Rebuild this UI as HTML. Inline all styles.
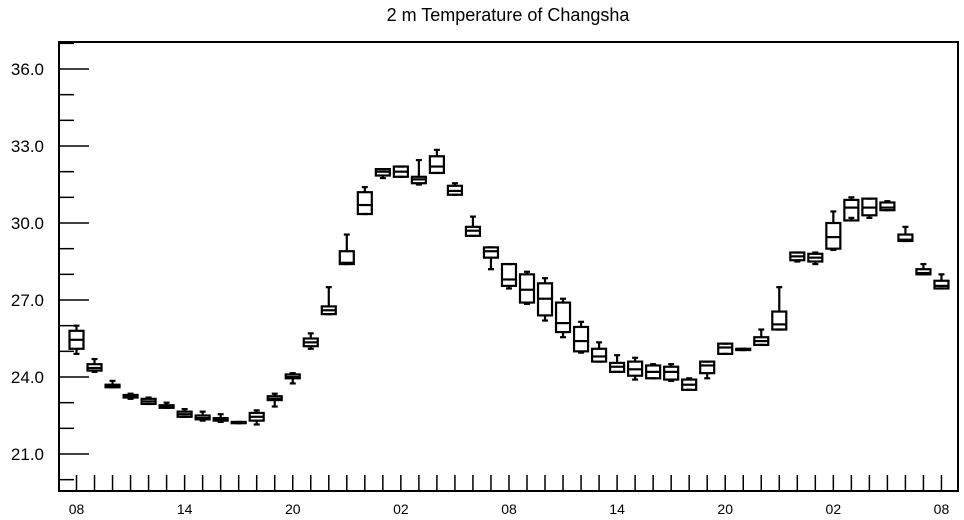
<!DOCTYPE html>
<html><head><meta charset="utf-8"><style>
html,body{margin:0;padding:0;background:#fff;}
svg{display:block;font-family:"Liberation Sans",Arial,sans-serif;}
</style></head><body>
<svg id="chart" width="964" height="520" viewBox="0 0 964 520" xmlns="http://www.w3.org/2000/svg">
<text x="508" y="21" font-size="18" text-anchor="middle">2 m Temperature of Changsha</text>
<g id="axes"></g>
<g id="boxes"></g>
<rect x="59" y="42" width="899" height="449" fill="none" stroke="#000" stroke-width="2"/>
</svg>
<script>
const hours = [0,1,2,3,4,5,6,7,8,9,10,11,12,13,14,15,16,17,18,19,20,21,22,23,24,25,26,27,28,29,30,31,32,33,34,35,36,37,38,39,40,41,42,43,44,45,46,47,48];
const mins = [24.9,24.2,23.6,23.15,22.95,22.8,22.45,22.3,22.25,22.2,22.15,22.85,23.75,25.1,26.45,28.4,30.35,31.75,31.8,31.5,31.95,31.1,29.5,28.2,27.45,26.85,26.2,25.55,24.95,24.6,24.2,23.9,23.95,23.85,23.5,23.95,24.9,25.05,25.25,25.85,28.5,28.4,28.95,30.2,30.2,30.5,29.3,28.0,27.45];
const q1s = [25.1,24.25,23.6,23.2,22.95,22.8,22.45,22.35,22.3,22.2,22.3,23.1,23.95,25.2,26.45,28.4,30.35,31.85,31.8,31.55,31.95,31.1,29.5,28.65,27.55,26.9,26.4,25.75,25.0,24.6,24.2,24.05,23.95,23.9,23.5,24.15,24.9,25.05,25.25,25.85,28.55,28.5,29.0,30.1,30.3,30.5,29.3,28.0,27.45];
const medians = [25.45,24.35,23.65,23.25,23.05,22.85,22.55,22.4,22.35,22.22,22.45,23.15,24.0,25.35,26.6,28.45,30.7,32.0,32.0,31.7,32.2,31.25,29.7,28.9,27.8,27.4,27.05,26.1,25.4,24.8,24.4,24.3,24.2,24.2,23.7,24.45,25.15,25.08,25.4,26.05,28.7,28.65,29.45,30.6,30.6,30.6,29.35,28.05,27.55];
const q3s = [25.8,24.5,23.7,23.3,23.15,22.9,22.65,22.5,22.4,22.25,22.6,23.25,24.1,25.5,26.75,28.9,31.2,32.1,32.2,31.8,32.6,31.45,29.85,29.05,28.4,28.0,27.65,26.9,25.95,25.1,24.55,24.6,24.45,24.4,23.9,24.6,25.3,25.1,25.55,26.55,28.85,28.8,30.0,30.9,30.95,30.8,29.55,28.2,27.75];
const maxs = [26.0,24.7,23.85,23.35,23.2,23.0,22.75,22.65,22.55,22.25,22.7,23.35,24.15,25.7,27.5,29.55,31.4,32.1,32.2,32.45,32.85,31.55,30.25,29.05,28.4,28.1,27.85,27.05,26.15,25.35,24.85,24.75,24.5,24.5,23.95,24.6,25.3,25.1,25.85,27.5,28.85,28.85,30.45,31.0,30.95,30.85,29.85,28.4,28.0];
const yTicks = [21,24,27,30,33,36];
const yTickLabels = ["21.0","24.0","27.0","30.0","33.0","36.0"];
const xLabelHours = [0,6,12,18,24,30,36,42,48];
const xLabels = ["08","14","20","02","08","14","20","02","08"];

const NS = "http://www.w3.org/2000/svg";
function X(h){ return 76.5 + h*18.02; }
function Y(v){ return 69 + (36 - v)*25.667; }
function mk(tag, attrs, parent){
  const e = document.createElementNS(NS, tag);
  for (const k in attrs) e.setAttribute(k, attrs[k]);
  parent.appendChild(e);
  return e;
}
const axes = document.getElementById('axes');
const boxes = document.getElementById('boxes');
// y minor ticks
for (let v = 20; v <= 37; v++) {
  const major = yTicks.indexOf(v) >= 0;
  const t = mk('line', {x1:59, x2: major ? 89 : 74, y1: Y(v), y2: Y(v), stroke:'#000', 'stroke-width':1.5}, axes);
  
  
}
yTicks.forEach((v, i) => {
  const t = mk('text', {x:44, y: Y(v)+6, 'font-size':17, 'text-anchor':'end'}, axes);
  t.textContent = yTickLabels[i];
  
  
});
hours.forEach(h => {
  const t = mk('line', {x1:X(h), x2:X(h), y1:475, y2:491, stroke:'#000', 'stroke-width':1.5}, axes);
  
  
});
xLabelHours.forEach((h, i) => {
  const t = mk('text', {x:X(h), y:514, 'font-size':14, 'text-anchor':'middle'}, axes);
  t.textContent = xLabels[i];
  
  
});
hours.forEach((h, i) => {
  const g = mk('g', {stroke:'#000', 'stroke-width':2.2, fill:'none'}, boxes);
  
  
  const x = X(h), w = 7;
  mk('line', {x1:x, x2:x, y1:Y(maxs[i]), y2:Y(q3s[i])}, g);
  mk('line', {x1:x, x2:x, y1:Y(q1s[i]), y2:Y(mins[i])}, g);
  mk('line', {x1:x-3, x2:x+3, y1:Y(maxs[i]), y2:Y(maxs[i])}, g);
  mk('line', {x1:x-3, x2:x+3, y1:Y(mins[i]), y2:Y(mins[i])}, g);
  mk('rect', {x:x-w, y:Y(q3s[i]), width:2*w, height:Math.max(1, Y(q1s[i])-Y(q3s[i]))}, g);
  mk('line', {x1:x-w, x2:x+w, y1:Y(medians[i]), y2:Y(medians[i])}, g);
});
</script>
</body></html>
